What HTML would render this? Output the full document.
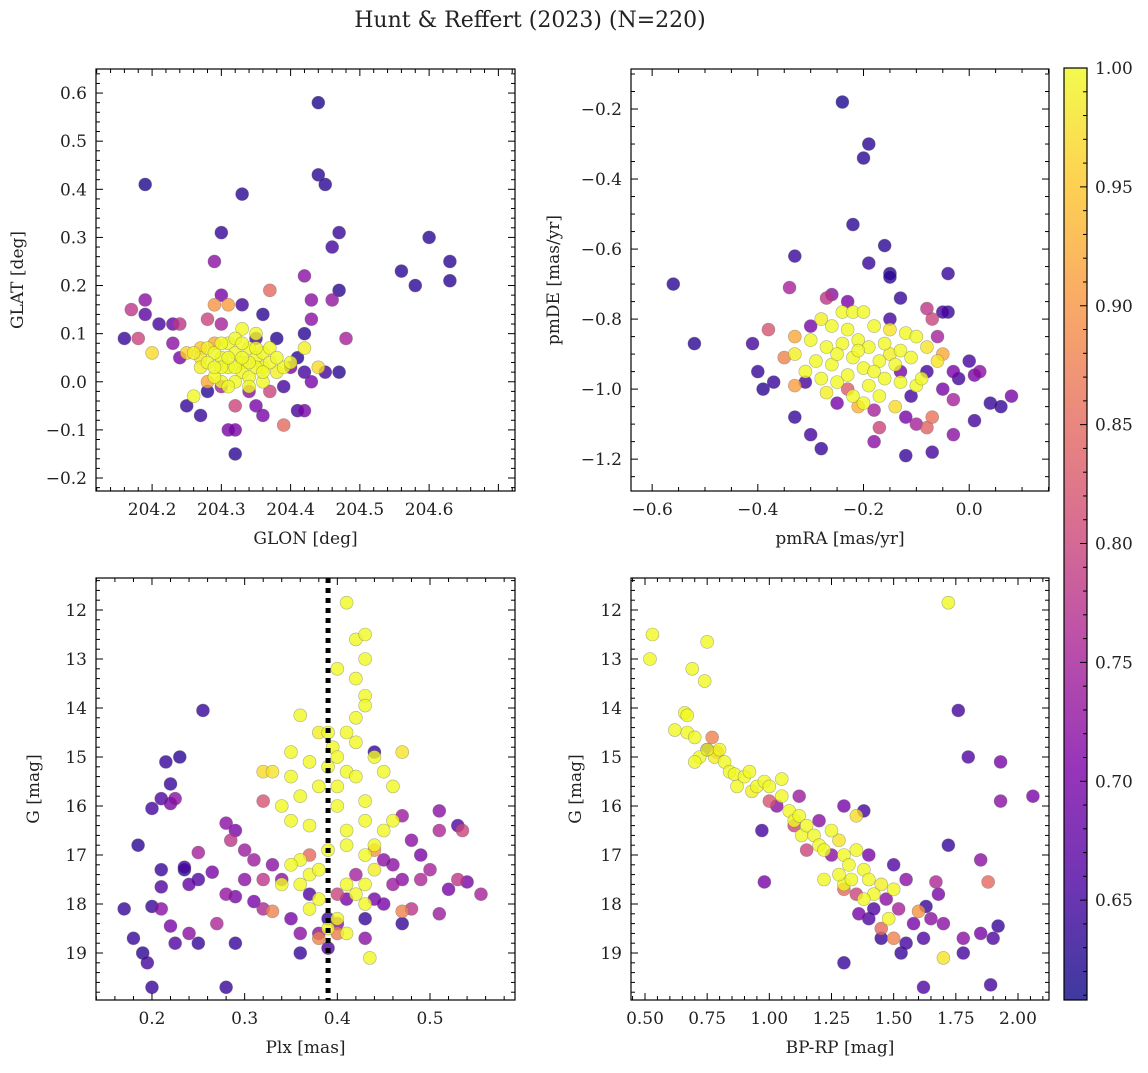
<!DOCTYPE html>
<html><head><meta charset="utf-8"><style>
body{margin:0;background:#fff;}
svg text{font-family:"DejaVu Serif","Liberation Serif",serif;fill:#222;}
</style></head><body>
<svg id="fig" width="1148" height="1068" viewBox="0 0 1148 1068" xmlns="http://www.w3.org/2000/svg">
<defs><linearGradient id="plasma" x1="0" y1="1" x2="0" y2="0">
<stop offset="0" stop-color="#0d0887"/><stop offset="0.125" stop-color="#4c02a1"/><stop offset="0.25" stop-color="#7e03a8"/><stop offset="0.375" stop-color="#a82296"/><stop offset="0.5" stop-color="#cc4778"/><stop offset="0.625" stop-color="#e56b5d"/><stop offset="0.75" stop-color="#f89540"/><stop offset="0.875" stop-color="#fdc527"/><stop offset="1" stop-color="#f0f921"/></linearGradient></defs>
<text x="530" y="27" font-size="22" text-anchor="middle">Hunt &amp; Reffert (2023) (N=220)</text>
</svg>
<script>
// ---- data ----
const tlX=[204.44,204.19,204.33,204.44,204.45,204.30,204.47,204.29,204.56,204.60,204.63,204.63,204.58,204.46,204.42,204.43,204.46,204.47,204.16,204.17,204.19,204.19,204.21,204.23,204.24,204.18,204.20,204.25,204.27,204.31,204.32,204.32,204.35,204.36,204.39,204.41,204.42,204.43,204.45,204.47,204.42,204.48,204.43,204.37,204.33,204.30,204.28,204.30,204.36,204.35,204.38,204.41,204.42,204.44,204.39,204.40,204.37,204.34,204.30,204.28,204.26,204.24,204.23,204.25,204.27,204.29,204.32,
204.30,204.31,204.32,204.33,204.34,204.35,204.36,204.33,204.31,204.29,204.28,204.30,204.32,204.34,204.36,204.37,204.38,204.35,204.33,204.32,204.30,204.29,204.27,204.26,204.34,204.36,204.31,204.33,204.35,204.37,204.28,204.27,204.39,204.40,204.42,204.30,204.34,204.32,204.36,204.31,204.33,204.29,204.35,204.38,204.29,204.28,204.31];
const tlY=[0.58,0.41,0.39,0.43,0.41,0.31,0.31,0.25,0.23,0.30,0.25,0.21,0.20,0.28,0.22,0.17,0.17,0.19,0.09,0.15,0.17,0.14,0.12,0.12,0.12,0.09,0.06,-0.05,-0.07,-0.10,-0.15,-0.10,-0.05,-0.07,-0.09,-0.06,-0.06,0.00,0.02,0.02,0.10,0.09,0.13,0.19,0.16,0.18,0.13,0.12,0.14,0.09,0.09,0.05,0.02,0.03,-0.01,0.03,-0.02,-0.02,-0.01,-0.02,-0.03,0.05,0.08,0.06,0.07,0.16,-0.05,
0.05,0.08,0.06,0.04,0.07,0.05,0.03,0.02,0.03,0.06,0.04,0.00,0.00,0.01,0.06,0.04,0.02,0.10,0.11,0.09,0.08,0.01,0.03,0.06,-0.01,0.00,-0.01,0.08,0.03,0.07,0.07,0.05,0.03,0.04,0.07,0.03,0.04,0.03,0.02,0.05,0.05,0.03,0.07,0.05,0.08,0.00,0.16];
const tlP=[0.62,0.62,0.63,0.63,0.63,0.64,0.64,0.72,0.63,0.63,0.63,0.63,0.63,0.65,0.72,0.72,0.73,0.63,0.64,0.78,0.72,0.67,0.65,0.68,0.78,0.80,0.97,0.64,0.64,0.70,0.63,0.70,0.70,0.70,0.85,0.65,0.70,0.70,0.65,0.63,0.63,0.75,0.72,0.85,0.65,0.70,0.80,0.75,0.63,0.65,0.63,0.63,0.65,0.97,0.65,0.70,0.80,0.72,0.75,0.63,1.0,0.70,0.72,0.96,0.95,0.90,0.80,
1,1,1,1,1,1,1,1,1,1,1,1,1,1,1,1,0.99,1,1,1,1,1,0.99,0.99,1,1,1,1,1,1,0.99,0.98,1,1,0.99,1,1,1,1,1,1,1,1,1,0.92,0.92,0.91];

const trX=[-0.24,-0.19,-0.20,-0.22,-0.16,-0.19,-0.15,-0.15,-0.04,-0.33,-0.56,-0.52,-0.34,-0.38,-0.41,-0.40,-0.39,-0.37,-0.33,-0.30,-0.28,-0.18,-0.12,-0.07,-0.03,0.01,0.04,0.06,0.08,0.00,0.01,0.02,-0.03,-0.04,-0.05,-0.08,-0.27,-0.26,-0.13,
-0.24,-0.22,-0.20,-0.28,-0.26,-0.23,-0.18,-0.15,-0.12,-0.10,-0.30,-0.27,-0.24,-0.21,-0.19,-0.16,-0.13,-0.08,-0.33,-0.29,-0.26,-0.22,-0.20,-0.17,-0.14,-0.11,-0.06,-0.31,-0.28,-0.25,-0.23,-0.19,-0.16,-0.13,-0.10,-0.27,-0.22,-0.20,-0.17,-0.14,-0.09,-0.21,-0.18,-0.25,-0.15,
-0.33,-0.33,-0.35,-0.21,-0.07,-0.08,-0.05,-0.23,-0.07,
-0.30,-0.31,-0.25,-0.18,-0.17,-0.12,-0.11,-0.08,-0.05,-0.03,-0.06,-0.02,-0.13,-0.10,-0.23,-0.15];
const trY=[-0.18,-0.30,-0.34,-0.53,-0.59,-0.64,-0.67,-0.68,-0.67,-0.62,-0.70,-0.87,-0.71,-0.83,-0.87,-0.95,-1.00,-0.98,-1.08,-1.13,-1.17,-1.15,-1.19,-1.18,-1.13,-1.09,-1.04,-1.05,-1.02,-0.92,-0.96,-0.95,-0.95,-0.78,-0.78,-0.77,-0.74,-0.73,-0.74,
-0.78,-0.78,-0.78,-0.80,-0.82,-0.83,-0.82,-0.83,-0.84,-0.85,-0.86,-0.88,-0.87,-0.86,-0.88,-0.87,-0.89,-0.88,-0.90,-0.92,-0.93,-0.91,-0.94,-0.92,-0.93,-0.91,-0.92,-0.95,-0.97,-0.98,-0.96,-0.99,-0.97,-0.98,-0.99,-1.01,-1.02,-1.04,-1.02,-1.05,-0.97,-0.89,-0.95,-0.90,-0.90,
-0.85,-0.99,-0.91,-1.05,-1.08,-1.11,-0.90,-1.00,-0.80,
-0.82,-0.98,-1.04,-1.06,-1.11,-1.08,-1.02,-0.95,-1.00,-1.03,-0.85,-0.97,-0.95,-1.10,-0.75,-0.80];
const trP=[0.62,0.63,0.63,0.63,0.63,0.64,0.63,0.63,0.64,0.64,0.63,0.63,0.75,0.82,0.65,0.64,0.63,0.64,0.64,0.65,0.64,0.72,0.64,0.65,0.72,0.65,0.64,0.64,0.70,0.65,0.70,0.72,0.70,0.64,0.65,0.78,0.78,0.72,0.64,
1,1,1,0.99,1,1,1,0.98,1,1,1,1,1,1,1,1,1,0.98,0.99,1,1,1,1,1,1,1,0.98,1,1,1,1,1,1,1,1,0.99,1,1,1,0.97,1,1,1,1,0.99,
0.92,0.91,0.88,0.93,0.86,0.84,0.92,0.83,0.80,
0.70,0.65,0.70,0.75,0.80,0.70,0.65,0.65,0.70,0.75,0.75,0.65,0.70,0.75,0.70,0.65];

const blX=[0.41,0.42,0.43,0.43,0.40,0.42,0.43,0.43,0.42,0.36,0.39,0.41,0.38,0.395,0.40,0.42,0.47,0.44,0.35,0.33,0.32,0.37,0.39,0.41,0.40,0.42,0.45,0.46,0.43,0.35,0.38,0.36,0.34,0.35,0.37,0.40,0.41,0.43,0.46,0.45,0.39,0.41,0.44,0.43,0.36,0.35,0.37,0.38,0.41,0.42,0.43,0.44,0.36,0.34,0.38,0.40,0.39,0.43,0.41,0.435,0.37,
0.33,0.32,0.38,0.40,0.47,0.44,0.37,0.40,
0.17,0.18,0.19,0.195,0.2,0.185,0.2,0.21,0.215,0.22,0.22,0.225,0.23,0.21,0.21,0.2,0.21,0.22,0.225,0.235,0.235,0.24,0.24,0.25,0.25,0.25,0.255,0.265,0.27,0.28,0.28,0.285,0.29,0.29,0.29,0.28,0.30,0.30,0.31,0.31,0.32,0.32,0.33,0.34,0.35,0.36,0.36,0.37,0.38,0.39,0.39,0.40,0.41,0.42,0.43,0.44,0.44,0.45,0.46,0.47,0.47,0.48,0.49,0.49,0.5,0.51,0.51,0.51,0.52,0.53,0.53,0.535,0.54,0.555,0.46,0.45,0.48,0.47,0.43];
const blY=[11.85,12.6,12.5,13.0,13.2,13.4,13.75,13.95,14.2,14.15,14.5,14.5,14.5,14.8,15.0,14.7,14.9,15.0,14.9,15.3,15.3,15.1,15.2,15.3,15.6,15.4,15.3,15.6,15.9,15.4,15.6,15.8,16.0,16.3,16.4,16.0,16.5,16.3,16.3,16.5,16.9,16.8,16.8,17.0,17.1,17.2,17.4,17.3,17.6,17.8,17.6,17.3,17.6,17.6,17.9,18.3,18.5,18.0,18.6,19.1,18.1,
18.15,15.9,18.7,18.6,18.15,16.9,17.0,17.8,
18.1,18.7,19.0,19.2,19.7,16.8,16.05,15.85,15.1,15.55,15.95,15.85,15.0,17.3,17.65,18.05,18.1,18.45,18.8,17.3,17.25,17.6,18.6,18.8,17.5,16.95,14.05,17.35,18.4,17.8,16.35,16.7,16.5,17.85,18.8,19.7,16.9,17.5,17.1,17.95,17.5,18.1,17.2,17.5,18.3,19.0,18.6,17.8,18.6,18.3,18.9,18.4,17.9,17.4,18.3,17.9,14.9,17.1,17.6,17.5,18.4,18.1,17.0,17.5,17.3,16.5,16.1,18.2,17.7,16.4,17.5,16.5,17.55,17.8,17.2,18.0,16.7,16.2,18.7];
const blP=[1,1,1,1,1,1,1,1,1,1,1,1,0.99,1,1,1,0.98,1,1,0.98,0.97,1,1,1,1,1,1,1,1,1,1,1,1,1,1,1,1,1,1,1,1,1,1,1,1,1,1,1,1,1,1,0.99,1,1,1,1,1,1,1,1,1,
0.88,0.82,0.88,0.87,0.88,0.90,0.85,0.80,
0.64,0.64,0.63,0.65,0.64,0.63,0.65,0.66,0.64,0.64,0.70,0.72,0.63,0.64,0.66,0.64,0.72,0.70,0.66,0.63,0.65,0.68,0.72,0.64,0.66,0.75,0.64,0.70,0.76,0.73,0.72,0.78,0.70,0.70,0.64,0.64,0.74,0.72,0.74,0.70,0.78,0.76,0.72,0.72,0.70,0.64,0.72,0.66,0.72,0.64,0.66,0.72,0.70,0.75,0.64,0.70,0.64,0.72,0.74,0.72,0.64,0.78,0.70,0.76,0.75,0.76,0.72,0.74,0.70,0.66,0.78,0.80,0.70,0.75,0.72,0.70,0.72,0.74,0.72];

const brX=[0.53,0.52,0.69,0.75,0.74,0.66,0.67,0.62,0.67,0.70,0.72,0.70,0.75,0.80,0.78,0.82,0.84,0.86,0.87,0.90,0.92,0.95,0.98,0.93,1.0,1.05,1.05,1.08,1.1,1.12,1.13,1.15,1.18,1.2,1.22,1.25,1.28,1.3,1.32,1.35,1.3,1.33,1.38,1.4,1.42,1.45,1.5,1.48,1.38,1.72,1.7,1.35,1.22,1.28,
0.77,0.79,1.0,1.1,1.15,1.3,1.45,1.6,1.88,1.5,1.35,
0.75,0.97,0.98,1.03,1.12,1.2,1.3,1.38,1.25,1.4,1.5,1.55,1.52,1.45,1.4,1.55,1.58,1.62,1.63,1.65,1.67,1.68,1.7,1.72,1.76,1.8,1.85,1.78,1.78,1.85,1.9,1.92,1.93,1.93,2.06,1.89,1.62,1.3,1.53,1.42,1.36,1.47];
const brY=[12.5,13.0,13.2,12.65,13.45,14.1,14.15,14.45,14.5,14.6,15.0,15.1,14.85,14.85,15.0,15.1,15.3,15.35,15.6,15.4,15.3,15.6,15.5,15.7,15.6,15.45,15.8,16.1,16.3,16.2,16.6,16.4,16.6,16.8,16.9,16.5,16.7,17.0,17.2,16.9,17.6,17.5,17.3,17.5,17.8,17.6,17.7,18.3,17.9,11.85,19.1,16.2,17.5,17.4,
14.6,14.9,15.9,16.4,16.9,17.7,18.5,18.15,17.55,18.7,17.8,
14.85,16.5,17.55,16.0,15.8,16.3,16.0,16.1,17.0,17.0,17.2,17.5,18.1,18.7,18.3,18.8,18.4,18.7,18.05,18.3,17.55,17.8,18.4,16.8,14.05,15.0,17.1,18.7,19.0,18.6,18.7,18.45,15.1,15.9,15.8,19.65,19.7,19.2,19.0,18.1,18.2,17.9];
const brP=[1,1,1,1,1,1,1,1,1,1,1,1,1,1,0.99,1,1,1,1,1,1,1,1,0.99,1,1,1,1,1,1,1,1,1,1,1,1,0.98,1,1,1,1,1,1,1,1,0.99,1,1,1,1,0.98,0.97,1,1,
0.88,0.90,0.82,0.80,0.80,0.85,0.85,0.90,0.85,0.88,0.80,
0.64,0.65,0.70,0.72,0.74,0.72,0.70,0.65,0.72,0.70,0.66,0.72,0.75,0.64,0.66,0.65,0.70,0.66,0.64,0.72,0.76,0.70,0.72,0.64,0.65,0.66,0.72,0.72,0.65,0.70,0.66,0.64,0.70,0.72,0.70,0.65,0.66,0.64,0.64,0.66,0.70,0.72];

const cbMin=0.608, cbMax=1.0;
const cbTicks=[0.65,0.70,0.75,0.80,0.85,0.90,0.95,1.00];

const NS="http://www.w3.org/2000/svg";
const svg=document.getElementById('fig');
function mk(tag,attrs,parent){const e=document.createElementNS(NS,tag);for(const k in attrs)e.setAttribute(k,attrs[k]);(parent||svg).appendChild(e);return e;}
const stops=[[0,[13,8,135]],[0.125,[76,2,161]],[0.25,[126,3,168]],[0.375,[168,34,150]],[0.5,[204,71,120]],[0.625,[229,107,93]],[0.75,[248,149,64]],[0.875,[253,197,39]],[1,[240,249,33]]];
function plasma(p){let t=(p-cbMin)/(cbMax-cbMin);t=Math.max(0,Math.min(1,t));for(let i=1;i<stops.length;i++){if(t<=stops[i][0]){const a=stops[i-1],b=stops[i];const f=(t-a[0])/(b[0]-a[0]);const c=a[1].map((v,j)=>Math.round(v+(b[1][j]-v)*f));return `rgb(${c[0]},${c[1]},${c[2]})`;}}return 'rgb(240,249,33)';}
const neg=s=>s.replace('-','\u2212');

function panel(o){
  const g=mk('g',{});
  
  
  const sx=v=>o.x0+(v-o.xd[0])/(o.xd[1]-o.xd[0])*(o.x1-o.x0);
  const sy=v=>o.y0+(v-o.yd[0])/(o.yd[1]-o.yd[0])*(o.y1-o.y0);
  const idx=o.xs.map((_,i)=>i).sort((a,b)=>o.ps[a]-o.ps[b]);
  const pg=mk('g',{},g);
  
  
  idx.forEach(i=>{const c=mk('circle',{cx:sx(o.xs[i]),cy:sy(o.ys[i]),r:6.5,fill:plasma(o.ps[i]),'fill-opacity':0.8,stroke:'#666','stroke-opacity':0.5,'stroke-width':0.6},pg);
    
    });
  if(o.vline!==undefined){const l=mk('line',{x1:sx(o.vline),x2:sx(o.vline),y1:o.y0,y2:o.y1,stroke:'#000','stroke-width':5,'stroke-dasharray':'5,5'},g);
    
    }
  const fr=mk('rect',{x:o.x0,y:Math.min(o.y0,o.y1),width:o.x1-o.x0,height:Math.abs(o.y1-o.y0),fill:'none',stroke:'#000','stroke-width':1.2},g);
  
  
  const top=Math.min(o.y0,o.y1),bot=Math.max(o.y0,o.y1);
  const xlo=Math.min(...o.xd),xhi=Math.max(...o.xd),ylo=Math.min(...o.yd),yhi=Math.max(...o.yd);
  for(let k=Math.ceil(xlo/o.xm-1e-6);k*o.xm<=xhi+1e-9;k++){const v=k*o.xm,X=sx(v);const maj=Math.abs(v/o.xM-Math.round(v/o.xM))<1e-6;const L=maj?7:4;
    mk('line',{x1:X,x2:X,y1:bot,y2:bot-L,stroke:'#000','stroke-width':1},g);mk('line',{x1:X,x2:X,y1:top,y2:top+L,stroke:'#000','stroke-width':1},g);}
  for(let k=Math.ceil(ylo/o.ym-1e-6);k*o.ym<=yhi+1e-9;k++){const v=k*o.ym,Y=sy(v);const maj=Math.abs(v/o.yM-Math.round(v/o.yM))<1e-6;const L=maj?7:4;
    mk('line',{x1:o.x0,x2:o.x0+L,y1:Y,y2:Y,stroke:'#000','stroke-width':1},g);mk('line',{x1:o.x1,x2:o.x1-L,y1:Y,y2:Y,stroke:'#000','stroke-width':1},g);}
  o.xt.forEach(t=>{const e=mk('text',{x:sx(t),y:bot+24,'font-size':17,'text-anchor':'middle'},g);e.textContent=neg(o.xf(t));
    
    });
  o.yt.forEach(t=>{const e=mk('text',{x:o.x0-9,y:sy(t)+6,'font-size':17,'text-anchor':'end'},g);e.textContent=neg(o.yf(t));
    
    });
  const xl=mk('text',{x:(o.x0+o.x1)/2,y:bot+53,'font-size':17,'text-anchor':'middle'},g);xl.textContent=o.xlab;
  
  
  const yl=mk('text',{x:0,y:0,'font-size':17,'text-anchor':'middle',transform:`translate(${o.ylx},${(top+bot)/2}) rotate(-90)`},g);yl.textContent=o.ylab;
  
  
}
const f1=v=>v.toFixed(1), f0=v=>v.toFixed(0);
panel({name:'glon-glat-panel',x0:96,x1:515,y0:491,y1:69,xd:[204.119,204.724],yd:[-0.227,0.650],xs:tlX,ys:tlY,ps:tlP,xm:0.02,xM:0.1,ym:0.02,yM:0.1,
  xt:[204.2,204.3,204.4,204.5,204.6],yt:[-0.2,-0.1,0,0.1,0.2,0.3,0.4,0.5,0.6],xf:f1,yf:f1,xlab:'GLON [deg]',ylab:'GLAT [deg]',ylx:23});
panel({name:'proper-motion-panel',x0:631,x1:1049,y0:491,y1:69,xd:[-0.640,0.151],yd:[-1.291,-0.0857],xs:trX,ys:trY,ps:trP,xm:0.05,xM:0.2,ym:0.05,yM:0.2,
  xt:[-0.6,-0.4,-0.2,0],yt:[-1.2,-1.0,-0.8,-0.6,-0.4,-0.2],xf:f1,yf:f1,xlab:'pmRA [mas/yr]',ylab:'pmDE [mas/yr]',ylx:559});
panel({name:'parallax-magnitude-panel',x0:96,x1:515,y0:578,y1:1000,xd:[0.1396,0.5917],yd:[11.347,19.959],xs:blX,ys:blY,ps:blP,xm:0.02,xM:0.1,ym:0.2,yM:1,vline:0.39,
  xt:[0.2,0.3,0.4,0.5],yt:[12,13,14,15,16,17,18,19],xf:f1,yf:f0,xlab:'Plx [mas]',ylab:'G [mag]',ylx:39});
panel({name:'color-magnitude-panel',x0:631,x1:1049,y0:578,y1:1000,xd:[0.4437,2.1247],yd:[11.347,19.959],xs:brX,ys:brY,ps:brP,xm:0.05,xM:0.25,ym:0.2,yM:1,
  xt:[0.5,0.75,1.0,1.25,1.5,1.75,2.0],yt:[12,13,14,15,16,17,18,19],xf:v=>v.toFixed(2),yf:f0,xlab:'BP-RP [mag]',ylab:'G [mag]',ylx:581});
// colorbar
const cb=mk('g',{});


mk('rect',{x:1064,y:68,width:23,height:932,fill:'url(#plasma)','fill-opacity':0.8},cb);
mk('rect',{x:1064,y:68,width:23,height:932,fill:'none',stroke:'#000','stroke-width':1.2},cb);
const cy=v=>1000-(v-cbMin)/(cbMax-cbMin)*932;
for(let k=Math.ceil(cbMin/0.01);k<=100;k++){const v=k*0.01,Y=cy(v);const maj=k%5===0;mk('line',{x1:1087,x2:1087-(maj?7:4),y1:Y,y2:Y,stroke:'#000','stroke-width':1},cb);}
cbTicks.forEach(t=>{const e=mk('text',{x:1095,y:cy(t)+6,'font-size':17},cb);e.textContent=t.toFixed(2);
  
  });
</script>
</body></html>
